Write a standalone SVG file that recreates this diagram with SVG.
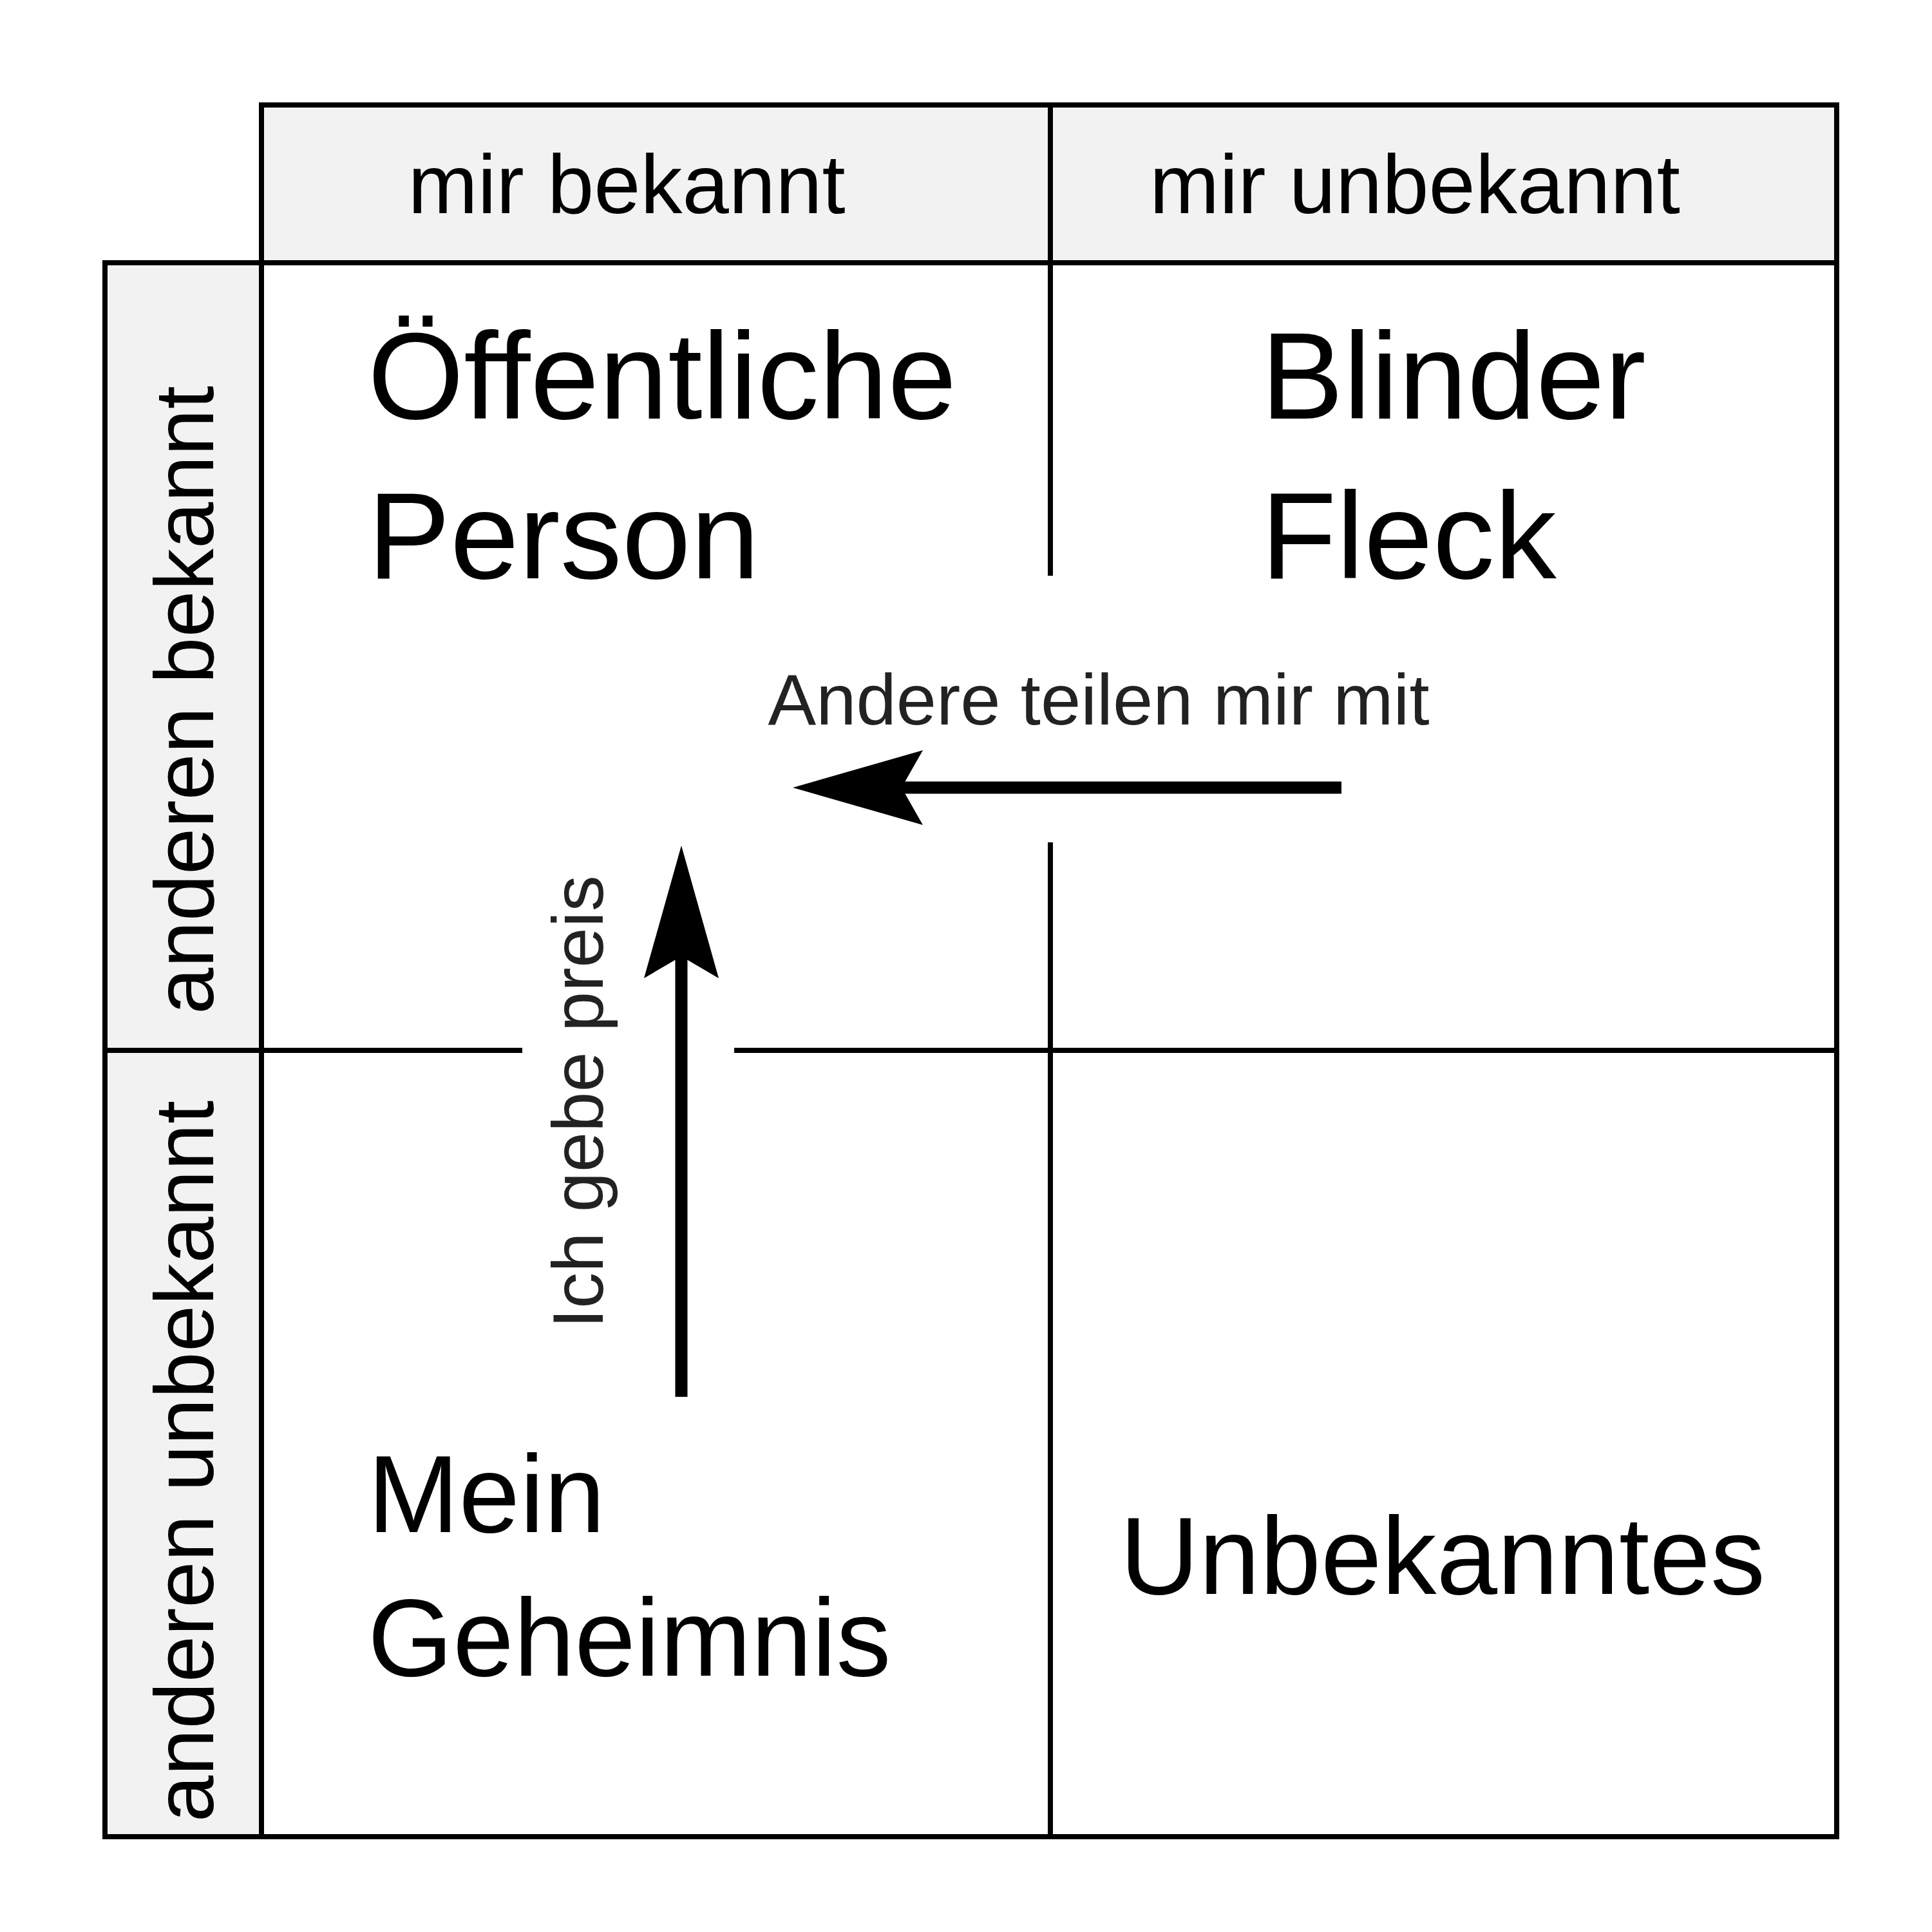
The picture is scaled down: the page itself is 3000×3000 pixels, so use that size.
<svg xmlns="http://www.w3.org/2000/svg" width="3000" height="3000" viewBox="0 0 3000 3000">
<style>
.hdr{fill:#f2f2f2;stroke:#000;stroke-width:8}
.ln{stroke:#000;stroke-width:8;fill:none}
text{font-family:"Liberation Sans",Arial,sans-serif;fill:#000}
.h{font-size:130px;text-anchor:middle}
.big{font-size:192px}
.mid{font-size:170px}
.lab{font-size:112px;fill:#222;text-anchor:middle}
.ar{stroke:#000;stroke-width:19}
</style>
<rect width="3000" height="3000" fill="#fff"/>
<g id="header-top">
<rect class="hdr" x="406" y="163" width="2446" height="245"/>
<line class="ln" x1="1631" y1="163" x2="1631" y2="408"/>
<text class="h" x="973" y="331">mir bekannt</text>
<text class="h" x="2197" y="331">mir unbekannt</text>
</g>
<g id="header-left">
<rect class="hdr" x="163" y="408" width="243" height="2444"/>
<line class="ln" x1="163" y1="1631" x2="406" y2="1631"/>
<text class="h" transform="translate(331,1087) rotate(-90)">anderen bekannt</text>
<text class="h" transform="translate(331,2269) rotate(-90)">anderen unbekannt</text>
</g>
<g id="grid">
<rect class="ln" x="406" y="408" width="2446" height="2444"/>
<line class="ln" x1="1631" y1="408" x2="1631" y2="894"/>
<line class="ln" x1="1631" y1="1308" x2="1631" y2="2852"/>
<line class="ln" x1="406" y1="1631" x2="811" y2="1631"/>
<line class="ln" x1="1140" y1="1631" x2="2852" y2="1631"/>
</g>
<g id="q1"><text class="big" x="571" y="650">Öffentliche</text><text class="big" x="571" y="898">Person</text></g>
<g id="q2"><text class="big" x="1958" y="650">Blinder</text><text class="big" x="1958" y="898">Fleck</text></g>
<g id="q3"><text class="mid" x="571" y="2379">Mein</text><text class="mid" x="571" y="2602">Geheimnis</text></g>
<g id="q4"><text class="mid" x="2240" y="2475" text-anchor="middle">Unbekanntes</text></g>
<g id="connectors">
<line class="ar" x1="2083" y1="1223" x2="1300" y2="1223"/>
<polygon points="1231,1223 1433,1165 1400,1223 1433,1281"/>
<line class="ar" x1="1058" y1="2169" x2="1058" y2="1380"/>
<polygon points="1058,1313 1116,1519 1058,1485 1000,1519"/>
<text class="lab" x="1706" y="1125">Andere teilen mir mit</text>
<text class="lab" transform="translate(936,1711) rotate(-90)">Ich gebe preis</text>
</g>
</svg>
